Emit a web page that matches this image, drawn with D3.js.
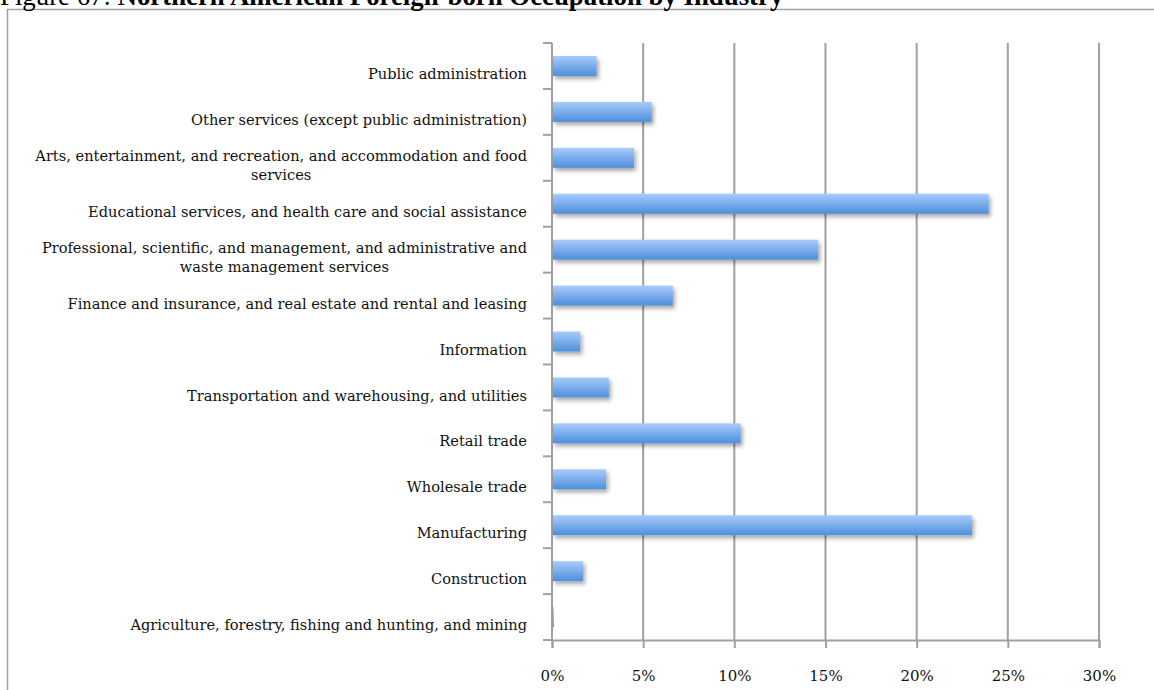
<!DOCTYPE html>
<html lang="en">
<head>
	<meta charset="UTF-8">
	<title>Northern American Foreign-born Occupation by Industry</title>
	<script src="https://d3js.org/d3.v7.min.js"></script>
	<style type="text/css">
		body {
			margin: 0;
			background: #fff;
		}
		.label {
			font-family: "DejaVu Serif", serif;
			font-size: 14.6px;
			fill: #111;
		}
		.tick text {
			font-family: "DejaVu Serif", serif;
			font-size: 15px;
			fill: #111;
		}
	</style>
</head>
<body>
<script type="text/javascript">

	// data, top to bottom as in the figure
	var industries = [
		["Public administration"],
		["Other services (except public administration)"],
		["Arts, entertainment, and recreation, and accommodation and food", "services"],
		["Educational services, and health care and social assistance"],
		["Professional, scientific, and management, and administrative and", "waste management services"],
		["Finance and insurance, and real estate and rental and leasing"],
		["Information"],
		["Transportation and warehousing, and utilities"],
		["Retail trade"],
		["Wholesale trade"],
		["Manufacturing"],
		["Construction"],
		["Agriculture, forestry, fishing and hunting, and mining"]
	];
	var shares = [2.45, 5.47, 4.5, 23.95, 14.6, 6.63, 1.55, 3.12, 10.35, 2.97, 23.03, 1.7, 0.1];
	var xTicks = [0, 5, 10, 15, 20, 25, 30];

	var W = 1154, H = 690;
	var margin = {top: 43, left: 552, right: 55, bottom: 50};

	var svg = d3.select('body').append('svg')
		.attr('width', W)
		.attr('height', H);

	// gradient + shadow for the bars
	var defs = svg.append('defs');
	var grad = defs.append('linearGradient')
		.attr('id', 'barGrad')
		.attr('x1', 0).attr('y1', 0).attr('x2', 0).attr('y2', 1);
	grad.append('stop').attr('offset', '0%').attr('stop-color', '#a9cbfc');
	grad.append('stop').attr('offset', '100%').attr('stop-color', '#4d8fdb');

	var shadow = defs.append('filter')
		.attr('id', 'shadow')
		.attr('x', '-10%').attr('y', '-30%')
		.attr('width', '130%').attr('height', '190%');
	shadow.append('feDropShadow')
		.attr('dx', 2).attr('dy', 3)
		.attr('stdDeviation', 2)
		.attr('flood-color', '#000')
		.attr('flood-opacity', 0.35);

	// outer frame
	svg.append('rect')
		.attr('x', 7.5).attr('y', 9.5)
		.attr('width', 1170).attr('height', 720)
		.style('fill', 'none')
		.style('stroke', '#a3a3a3')
		.style('stroke-width', 1.5);

	// title (cut off at top like the source)
	var title = svg.append('text')
		.attr('x', 0)
		.attr('y', 5)
		.style('font-family', '"Liberation Serif", "Times New Roman", serif')
		.style('font-size', '26.8px')
		.style('fill', '#000');
	title.append('tspan').text('Figure 67: ');
	title.append('tspan').style('font-weight', 'bold').text('Northern American Foreign-born Occupation by Industry');

	//scaling
	var x = d3.scaleLinear()
		.domain([0, 30])
		.range([margin.left, W - margin.right]);

	var y = d3.scaleBand()
		.domain(d3.range(industries.length))
		.range([margin.top, 640])
		.paddingInner(0.565)
		.paddingOuter(0.2825);

	var bottom = y.range()[1];

	// gridlines
	svg.append('g')
		.selectAll('line')
		.data(xTicks.slice(1))
		.enter().append('line')
		.attr('x1', function (d) { return x(d); })
		.attr('x2', function (d) { return x(d); })
		.attr('y1', margin.top)
		.attr('y2', bottom)
		.style('stroke', '#a0a0a0')
		.style('stroke-width', 2);

	// x axis
	var xAxis = svg.append('g')
		.attr('transform', 'translate(0,' + bottom + ')')
		.call(d3.axisBottom(x)
			.tickValues(xTicks)
			.tickSize(8)
			.tickPadding(28)
			.tickFormat(function (d) { return d + '%'; }));
	xAxis.select('.domain').style('stroke', '#a0a0a0').style('stroke-width', 2);
	xAxis.selectAll('.tick line').style('stroke', '#a0a0a0').style('stroke-width', 2);
	xAxis.selectAll('.tick text').attr('dy', '0.3em');

	// y axis line and ticks between categories
	var step = y.step();
	var yTicks = d3.range(industries.length + 1).map(function (i) { return margin.top + i * step; });

	svg.append('line')
		.attr('x1', x(0)).attr('x2', x(0))
		.attr('y1', margin.top).attr('y2', bottom)
		.style('stroke', '#a0a0a0')
		.style('stroke-width', 2);

	svg.append('g')
		.selectAll('line')
		.data(yTicks)
		.enter().append('line')
		.attr('x1', x(0) - 9).attr('x2', x(0))
		.attr('y1', function (d) { return d; })
		.attr('y2', function (d) { return d; })
		.style('stroke', '#a0a0a0')
		.style('stroke-width', 2);

	//--bars--//
	svg.append('g')
		.selectAll('.bar')
		.data(shares)
		.enter().append('rect')
		.attr('class', 'bar')
		.attr('x', x(0) + 1)
		.attr('y', function (d, i) { return y(i); })
		.attr('width', function (d) { return x(d) - x(0) - 1; })
		.attr('height', y.bandwidth())
		.style('fill', 'url(#barGrad)')
		.attr('filter', 'url(#shadow)');

	//--category labels, lines centred on each other, block right aligned--//
	var labelRight = 527;
	var lineH = 19;
	var labels = svg.append('g')
		.selectAll('.label')
		.data(industries)
		.enter().append('text')
		.attr('class', 'label')
		.style('text-anchor', 'middle');

	labels.each(function (lines, i) {
		var t = d3.select(this);
		var cy = y(i) + y.bandwidth() / 2 + 8;
		var firstY = cy - (lines.length - 1) * lineH / 2;
		lines.forEach(function (s, k) {
			t.append('tspan')
				.attr('y', firstY + k * lineH)
				.attr('dy', '0.35em')
				.text(s);
		});
		var maxW = 0;
		t.selectAll('tspan').each(function () {
			maxW = Math.max(maxW, this.getComputedTextLength());
		});
		t.selectAll('tspan').attr('x', labelRight - maxW / 2);
	});

</script>
</body>
</html>
